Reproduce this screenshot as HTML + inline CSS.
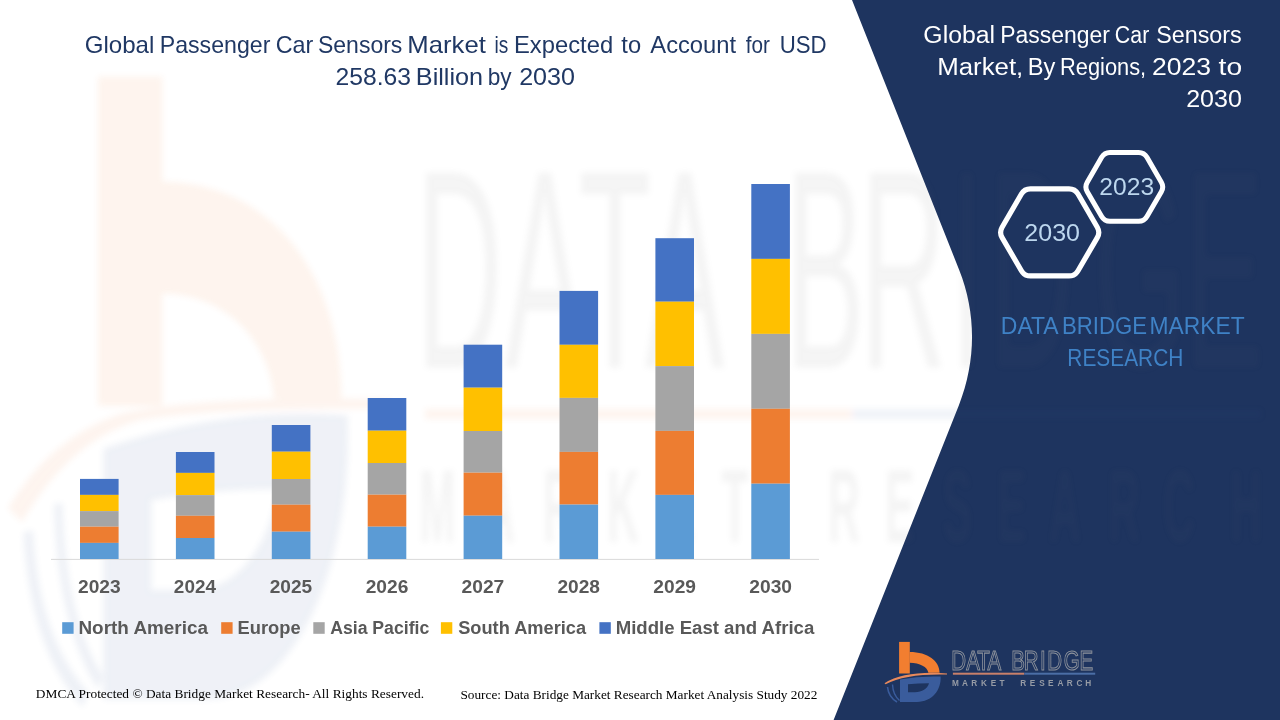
<!DOCTYPE html>
<html><head><meta charset="utf-8">
<style>html,body{margin:0;padding:0;background:#fff;}body{width:1280px;height:720px;overflow:hidden;}svg{display:block;}</style>
</head><body>
<svg width="1280" height="720" viewBox="0 0 1280 720">
<defs>
<filter id="wb" x="-10%" y="-10%" width="120%" height="120%"><feGaussianBlur stdDeviation="3"/></filter>
<clipPath id="navyclip"><path d="M852,0 H1280 V720 H833.6 L959,405 C976.3,360.5 976.4,313.2 959.2,270 Z"/></clipPath>

<g id="mark"><use href="#mb"/><use href="#md"/></g>
<g id="mb">
  <rect x="899.1" y="641.9" width="10.7" height="31.6" fill="#F27E30"/>
  <path d="M909.6,652 C928,652 939.6,661 939.6,672.8 L928.4,672.8 C927.5,667 920,662.7 909.6,662.7 Z" fill="#F27E30"/>
</g>
<g id="md">
  <path d="M900,679.6 Q920,675.8 940.6,676.6 C941.5,690 932,702 917,702 L900,702 Z M908,684.2 L908,692.2 L915,692.2 C922,692.2 927.5,688.5 929,683.2 Q918,683.2 908,684.2 Z" fill="#3A5C9C" fill-rule="evenodd"/>
  <path d="M887.5,687 Q888.5,697 897,702" stroke="#3A5C9C" stroke-width="1.6" fill="none"/>
  <path d="M892.5,684.5 Q893,695 899.5,700.5" stroke="#3A5C9C" stroke-width="1.4" fill="none"/>
</g>
<g id="wm">
 <g transform="matrix(6.016,0,0,10.43,-5310.98,-6618.5)"><use href="#mb"/></g>
 <g transform="matrix(6.016,0,0,11.2,-5310.98,-7162.9)"><use href="#md"/></g>
 <path d="M8,508 Q50,438 120,414 Q200,396 390,399 L390,409 Q220,407 140,420 Q70,440 22,522 Z" fill="#F08040"/>
 <text transform="scale(0.42,1)" x="991.65 1202.38 1377.67 1535.71 1870.22 2048.79 2262.63 2353.55 2604.90 2820.22" y="367.5" font-family='"Liberation Sans", sans-serif' font-weight="normal" font-size="283" fill="#808080">DATABRIDGE</text>
 <rect x="425" y="409" width="427" height="10" fill="#F08040"/>
 <rect x="852" y="409" width="410" height="10" fill="#5070B0"/>
 <text transform="scale(0.42,1)" x="998.00 1149.78 1293.24 1445.62 1583.72 1718.01" y="542" font-family='"Liberation Sans", sans-serif' font-weight="bold" font-size="104" fill="#808080">MARKET</text><text transform="scale(0.42,1)" x="1971.81 2107.53 2244.50 2374.19 2497.40 2638.48 2769.65 2928.95" y="542" font-family='"Liberation Sans", sans-serif' font-weight="bold" font-size="104" fill="#808080">RESEARCH</text>
</g>
<g id="logo"><use href="#mark"/><path d="M884.5,683.2 Q905,670.5 947,673.4 L947,674.6 Q906,673.5 885.6,684.2 Z" fill="#E98A5C"/><text transform="scale(0.76,1)" x="1251.66 1271.32 1285.78 1299.34 1330.47 1347.18 1368.49 1378.10 1399.83 1420.47" y="669.8" font-family='"Liberation Sans", sans-serif' font-weight="normal" font-size="27" fill="none" stroke="#8E939C" stroke-width="0.9" vector-effect="non-scaling-stroke">DATABRIDGE</text>
  <rect x="952.9" y="672.7" width="71.4" height="2" fill="#C9806A"/>
  <rect x="1024.3" y="672.7" width="70.9" height="2" fill="#4B6EA6"/>
  <text transform="scale(0.85,1)" x="1119.96 1131.76 1142.78 1154.19 1165.60 1175.90" y="685.6" font-family='"Liberation Sans", sans-serif' font-weight="bold" font-size="9.7" fill="#969BA5">MARKET</text><text transform="scale(0.85,1)" x="1200.19 1211.37 1222.53 1233.02 1244.23 1255.13 1266.44 1276.78" y="685.6" font-family='"Liberation Sans", sans-serif' font-weight="bold" font-size="9.7" fill="#969BA5">RESEARCH</text></g>
</defs>
<rect width="1280" height="720" fill="#FFFFFF"/>
<g opacity="0.085" filter="url(#wb)"><use href="#wm"/></g>
<path d="M852,0 H1280 V720 H833.6 L959,405 C976.3,360.5 976.4,313.2 959.2,270 Z" fill="#1E345F"/>
<g opacity="0.04" filter="url(#wb)" clip-path="url(#navyclip)"><use href="#wm"/></g>
<line x1="51" y1="559.4" x2="819" y2="559.4" stroke="#D9D9D9" stroke-width="1"/>
<rect x="80.0" y="478.9" width="38.6" height="16.0" fill="#4472C4"/>
<rect x="80.0" y="494.9" width="38.6" height="16.2" fill="#FFC000"/>
<rect x="80.0" y="511.1" width="38.6" height="15.6" fill="#A5A5A5"/>
<rect x="80.0" y="526.7" width="38.6" height="16.2" fill="#ED7D31"/>
<rect x="80.0" y="542.9" width="38.6" height="16.1" fill="#5B9BD5"/>
<text x="77.98" y="593.20" font-family='"Liberation Sans", sans-serif' font-weight="bold" font-size="18" textLength="42.64" lengthAdjust="spacingAndGlyphs" fill="#595959" >2023</text>
<rect x="175.9" y="452.0" width="38.6" height="20.9" fill="#4472C4"/>
<rect x="175.9" y="472.9" width="38.6" height="22.2" fill="#FFC000"/>
<rect x="175.9" y="495.1" width="38.6" height="20.7" fill="#A5A5A5"/>
<rect x="175.9" y="515.8" width="38.6" height="22.2" fill="#ED7D31"/>
<rect x="175.9" y="538.0" width="38.6" height="21.0" fill="#5B9BD5"/>
<text x="173.89" y="593.20" font-family='"Liberation Sans", sans-serif' font-weight="bold" font-size="18" textLength="42.05" lengthAdjust="spacingAndGlyphs" fill="#595959" >2024</text>
<rect x="271.8" y="425.0" width="38.6" height="26.7" fill="#4472C4"/>
<rect x="271.8" y="451.7" width="38.6" height="27.3" fill="#FFC000"/>
<rect x="271.8" y="479.0" width="38.6" height="25.7" fill="#A5A5A5"/>
<rect x="271.8" y="504.7" width="38.6" height="27.0" fill="#ED7D31"/>
<rect x="271.8" y="531.7" width="38.6" height="27.3" fill="#5B9BD5"/>
<text x="269.78" y="593.20" font-family='"Liberation Sans", sans-serif' font-weight="bold" font-size="18" textLength="42.44" lengthAdjust="spacingAndGlyphs" fill="#595959" >2025</text>
<rect x="367.7" y="398.0" width="38.6" height="32.7" fill="#4472C4"/>
<rect x="367.7" y="430.7" width="38.6" height="32.3" fill="#FFC000"/>
<rect x="367.7" y="463.0" width="38.6" height="31.7" fill="#A5A5A5"/>
<rect x="367.7" y="494.7" width="38.6" height="32.0" fill="#ED7D31"/>
<rect x="367.7" y="526.7" width="38.6" height="32.3" fill="#5B9BD5"/>
<text x="365.68" y="593.20" font-family='"Liberation Sans", sans-serif' font-weight="bold" font-size="18" textLength="42.64" lengthAdjust="spacingAndGlyphs" fill="#595959" >2026</text>
<rect x="463.6" y="344.7" width="38.6" height="43.0" fill="#4472C4"/>
<rect x="463.6" y="387.7" width="38.6" height="43.3" fill="#FFC000"/>
<rect x="463.6" y="431.0" width="38.6" height="41.7" fill="#A5A5A5"/>
<rect x="463.6" y="472.7" width="38.6" height="43.0" fill="#ED7D31"/>
<rect x="463.6" y="515.7" width="38.6" height="43.3" fill="#5B9BD5"/>
<text x="461.58" y="593.20" font-family='"Liberation Sans", sans-serif' font-weight="bold" font-size="18" textLength="42.73" lengthAdjust="spacingAndGlyphs" fill="#595959" >2027</text>
<rect x="559.5" y="290.9" width="38.6" height="53.9" fill="#4472C4"/>
<rect x="559.5" y="344.8" width="38.6" height="53.1" fill="#FFC000"/>
<rect x="559.5" y="397.9" width="38.6" height="54.0" fill="#A5A5A5"/>
<rect x="559.5" y="451.9" width="38.6" height="52.7" fill="#ED7D31"/>
<rect x="559.5" y="504.6" width="38.6" height="54.4" fill="#5B9BD5"/>
<text x="557.48" y="593.20" font-family='"Liberation Sans", sans-serif' font-weight="bold" font-size="18" textLength="42.54" lengthAdjust="spacingAndGlyphs" fill="#595959" >2028</text>
<rect x="655.4" y="238.2" width="38.6" height="63.5" fill="#4472C4"/>
<rect x="655.4" y="301.7" width="38.6" height="64.4" fill="#FFC000"/>
<rect x="655.4" y="366.1" width="38.6" height="64.8" fill="#A5A5A5"/>
<rect x="655.4" y="430.9" width="38.6" height="64.0" fill="#ED7D31"/>
<rect x="655.4" y="494.9" width="38.6" height="64.1" fill="#5B9BD5"/>
<text x="653.38" y="593.20" font-family='"Liberation Sans", sans-serif' font-weight="bold" font-size="18" textLength="42.64" lengthAdjust="spacingAndGlyphs" fill="#595959" >2029</text>
<rect x="751.3" y="184.0" width="38.6" height="74.9" fill="#4472C4"/>
<rect x="751.3" y="258.9" width="38.6" height="75.0" fill="#FFC000"/>
<rect x="751.3" y="333.9" width="38.6" height="74.9" fill="#A5A5A5"/>
<rect x="751.3" y="408.8" width="38.6" height="74.9" fill="#ED7D31"/>
<rect x="751.3" y="483.7" width="38.6" height="75.3" fill="#5B9BD5"/>
<text x="749.28" y="593.20" font-family='"Liberation Sans", sans-serif' font-weight="bold" font-size="18" textLength="42.73" lengthAdjust="spacingAndGlyphs" fill="#595959" >2030</text>
<path d="M1002.11,237.59 Q999.10,232.40 1002.11,227.21 L1021.39,194.04 Q1024.40,188.85 1030.40,188.85 L1069.00,188.85 Q1075.00,188.85 1078.01,194.04 L1097.29,227.21 Q1100.30,232.40 1097.29,237.59 L1078.01,270.76 Q1075.00,275.95 1069.00,275.95 L1030.40,275.95 Q1024.40,275.95 1021.39,270.76 Z" fill="#1E345F" stroke="#FFFFFF" stroke-width="5.2"/>
<path d="M1087.25,191.66 Q1084.50,186.90 1087.25,182.14 L1101.65,157.26 Q1104.40,152.50 1109.90,152.50 L1138.70,152.50 Q1144.20,152.50 1146.95,157.26 L1161.35,182.14 Q1164.10,186.90 1161.35,191.66 L1146.95,216.54 Q1144.20,221.30 1138.70,221.30 L1109.90,221.30 Q1104.40,221.30 1101.65,216.54 Z" fill="#1E345F" stroke="#FFFFFF" stroke-width="5"/>
<text x="84.70" y="52.80" font-family='"Liberation Sans", sans-serif' font-weight="normal" font-size="23.8" textLength="69.59" lengthAdjust="spacingAndGlyphs" fill="#203864" >Global</text><text x="159.75" y="52.80" font-family='"Liberation Sans", sans-serif' font-weight="normal" font-size="23.8" textLength="110.62" lengthAdjust="spacingAndGlyphs" fill="#203864" >Passenger</text><text x="275.73" y="52.80" font-family='"Liberation Sans", sans-serif' font-weight="normal" font-size="23.8" textLength="37.65" lengthAdjust="spacingAndGlyphs" fill="#203864" >Car</text><text x="317.96" y="52.80" font-family='"Liberation Sans", sans-serif' font-weight="normal" font-size="23.8" textLength="84.41" lengthAdjust="spacingAndGlyphs" fill="#203864" >Sensors</text><text x="407.34" y="52.80" font-family='"Liberation Sans", sans-serif' font-weight="normal" font-size="23.8" textLength="78.52" lengthAdjust="spacingAndGlyphs" fill="#203864" >Market</text><text x="494.46" y="52.80" font-family='"Liberation Sans", sans-serif' font-weight="normal" font-size="23.8" textLength="13.74" lengthAdjust="spacingAndGlyphs" fill="#203864" >is</text><text x="514.00" y="52.80" font-family='"Liberation Sans", sans-serif' font-weight="normal" font-size="23.8" textLength="99.14" lengthAdjust="spacingAndGlyphs" fill="#203864" >Expected</text><text x="621.34" y="52.80" font-family='"Liberation Sans", sans-serif' font-weight="normal" font-size="23.8" textLength="19.78" lengthAdjust="spacingAndGlyphs" fill="#203864" >to</text><text x="650.30" y="52.80" font-family='"Liberation Sans", sans-serif' font-weight="normal" font-size="23.8" textLength="85.80" lengthAdjust="spacingAndGlyphs" fill="#203864" >Account</text><text x="745.69" y="52.80" font-family='"Liberation Sans", sans-serif' font-weight="normal" font-size="23.8" textLength="24.16" lengthAdjust="spacingAndGlyphs" fill="#203864" >for</text><text x="779.63" y="52.80" font-family='"Liberation Sans", sans-serif' font-weight="normal" font-size="23.8" textLength="46.90" lengthAdjust="spacingAndGlyphs" fill="#203864" >USD</text>
<text x="335.57" y="84.70" font-family='"Liberation Sans", sans-serif' font-weight="normal" font-size="23.8" textLength="75.49" lengthAdjust="spacingAndGlyphs" fill="#203864" >258.63</text><text x="415.88" y="84.70" font-family='"Liberation Sans", sans-serif' font-weight="normal" font-size="23.8" textLength="67.23" lengthAdjust="spacingAndGlyphs" fill="#203864" >Billion</text><text x="487.73" y="84.70" font-family='"Liberation Sans", sans-serif' font-weight="normal" font-size="23.8" textLength="23.90" lengthAdjust="spacingAndGlyphs" fill="#203864" >by</text><text x="519.15" y="84.70" font-family='"Liberation Sans", sans-serif' font-weight="normal" font-size="23.8" textLength="55.83" lengthAdjust="spacingAndGlyphs" fill="#203864" >2030</text>
<text x="923.36" y="42.70" font-family='"Liberation Sans", sans-serif' font-weight="normal" font-size="24.7" textLength="71.77" lengthAdjust="spacingAndGlyphs" fill="#FFFFFF" >Global</text><text x="1000.16" y="42.70" font-family='"Liberation Sans", sans-serif' font-weight="normal" font-size="24.7" textLength="109.70" lengthAdjust="spacingAndGlyphs" fill="#FFFFFF" >Passenger</text><text x="1114.83" y="42.70" font-family='"Liberation Sans", sans-serif' font-weight="normal" font-size="24.7" textLength="34.42" lengthAdjust="spacingAndGlyphs" fill="#FFFFFF" >Car</text><text x="1156.15" y="42.70" font-family='"Liberation Sans", sans-serif' font-weight="normal" font-size="24.7" textLength="85.63" lengthAdjust="spacingAndGlyphs" fill="#FFFFFF" >Sensors</text>
<text x="937.23" y="74.80" font-family='"Liberation Sans", sans-serif' font-weight="normal" font-size="24.7" textLength="86.06" lengthAdjust="spacingAndGlyphs" fill="#FFFFFF" >Market,</text><text x="1027.71" y="74.80" font-family='"Liberation Sans", sans-serif' font-weight="normal" font-size="24.7" textLength="27.64" lengthAdjust="spacingAndGlyphs" fill="#FFFFFF" >By</text><text x="1060.05" y="74.80" font-family='"Liberation Sans", sans-serif' font-weight="normal" font-size="24.7" textLength="86.14" lengthAdjust="spacingAndGlyphs" fill="#FFFFFF" >Regions,</text><text x="1151.97" y="74.80" font-family='"Liberation Sans", sans-serif' font-weight="normal" font-size="24.7" textLength="59.08" lengthAdjust="spacingAndGlyphs" fill="#FFFFFF" >2023</text><text x="1218.58" y="74.80" font-family='"Liberation Sans", sans-serif' font-weight="normal" font-size="24.7" textLength="23.52" lengthAdjust="spacingAndGlyphs" fill="#FFFFFF" >to</text>
<text x="1186.15" y="106.80" font-family='"Liberation Sans", sans-serif' font-weight="normal" font-size="24.7" textLength="55.72" lengthAdjust="spacingAndGlyphs" fill="#FFFFFF" >2030</text>
<text x="1024.35" y="240.60" font-family='"Liberation Sans", sans-serif' font-weight="normal" font-size="24.3" textLength="55.62" lengthAdjust="spacingAndGlyphs" fill="#BDD7EE" >2030</text>
<text x="1099.37" y="194.70" font-family='"Liberation Sans", sans-serif' font-weight="normal" font-size="24" textLength="54.81" lengthAdjust="spacingAndGlyphs" fill="#BDD7EE" >2023</text>
<text x="1000.86" y="333.90" font-family='"Liberation Sans", sans-serif' font-weight="normal" font-size="24" textLength="57.82" lengthAdjust="spacingAndGlyphs" fill="#3F82C6" >DATA</text><text x="1062.03" y="333.90" font-family='"Liberation Sans", sans-serif' font-weight="normal" font-size="24" textLength="85.05" lengthAdjust="spacingAndGlyphs" fill="#3F82C6" >BRIDGE</text><text x="1149.57" y="333.90" font-family='"Liberation Sans", sans-serif' font-weight="normal" font-size="24" textLength="95.13" lengthAdjust="spacingAndGlyphs" fill="#3F82C6" >MARKET</text>
<text x="1067.33" y="365.50" font-family='"Liberation Sans", sans-serif' font-weight="normal" font-size="23.4" textLength="115.98" lengthAdjust="spacingAndGlyphs" fill="#3F82C6" >RESEARCH</text>
<rect x="62.2" y="622.2" width="11.4" height="11.6" fill="#5B9BD5"/>
<text x="78.47" y="633.75" font-family='"Liberation Sans", sans-serif' font-weight="bold" font-size="18" textLength="129.51" lengthAdjust="spacingAndGlyphs" fill="#595959" >North America</text>
<rect x="221.2" y="622.2" width="11.4" height="11.6" fill="#ED7D31"/>
<text x="237.56" y="633.75" font-family='"Liberation Sans", sans-serif' font-weight="bold" font-size="18" textLength="63.08" lengthAdjust="spacingAndGlyphs" fill="#595959" >Europe</text>
<rect x="313.3" y="622.2" width="11.4" height="11.6" fill="#A5A5A5"/>
<text x="330.16" y="633.75" font-family='"Liberation Sans", sans-serif' font-weight="bold" font-size="18" textLength="99.11" lengthAdjust="spacingAndGlyphs" fill="#595959" >Asia Pacific</text>
<rect x="440.9" y="622.2" width="11.4" height="11.6" fill="#FFC000"/>
<text x="458.20" y="633.75" font-family='"Liberation Sans", sans-serif' font-weight="bold" font-size="18" textLength="127.87" lengthAdjust="spacingAndGlyphs" fill="#595959" >South America</text>
<rect x="599.4" y="622.2" width="11.4" height="11.6" fill="#4472C4"/>
<text x="615.69" y="633.75" font-family='"Liberation Sans", sans-serif' font-weight="bold" font-size="18" textLength="198.57" lengthAdjust="spacingAndGlyphs" fill="#595959" >Middle East and Africa</text>
<text x="35.85" y="698.10" font-family='"Liberation Serif", serif' font-weight="normal" font-size="13.3" textLength="388.14" lengthAdjust="spacingAndGlyphs" fill="#000000" >DMCA Protected © Data Bridge Market Research- All Rights Reserved.</text>
<text x="460.44" y="699.30" font-family='"Liberation Serif", serif' font-weight="normal" font-size="13.3" textLength="356.96" lengthAdjust="spacingAndGlyphs" fill="#000000" >Source: Data Bridge Market Research Market Analysis Study 2022</text>
<use href="#logo"/>
</svg>
</body></html>
